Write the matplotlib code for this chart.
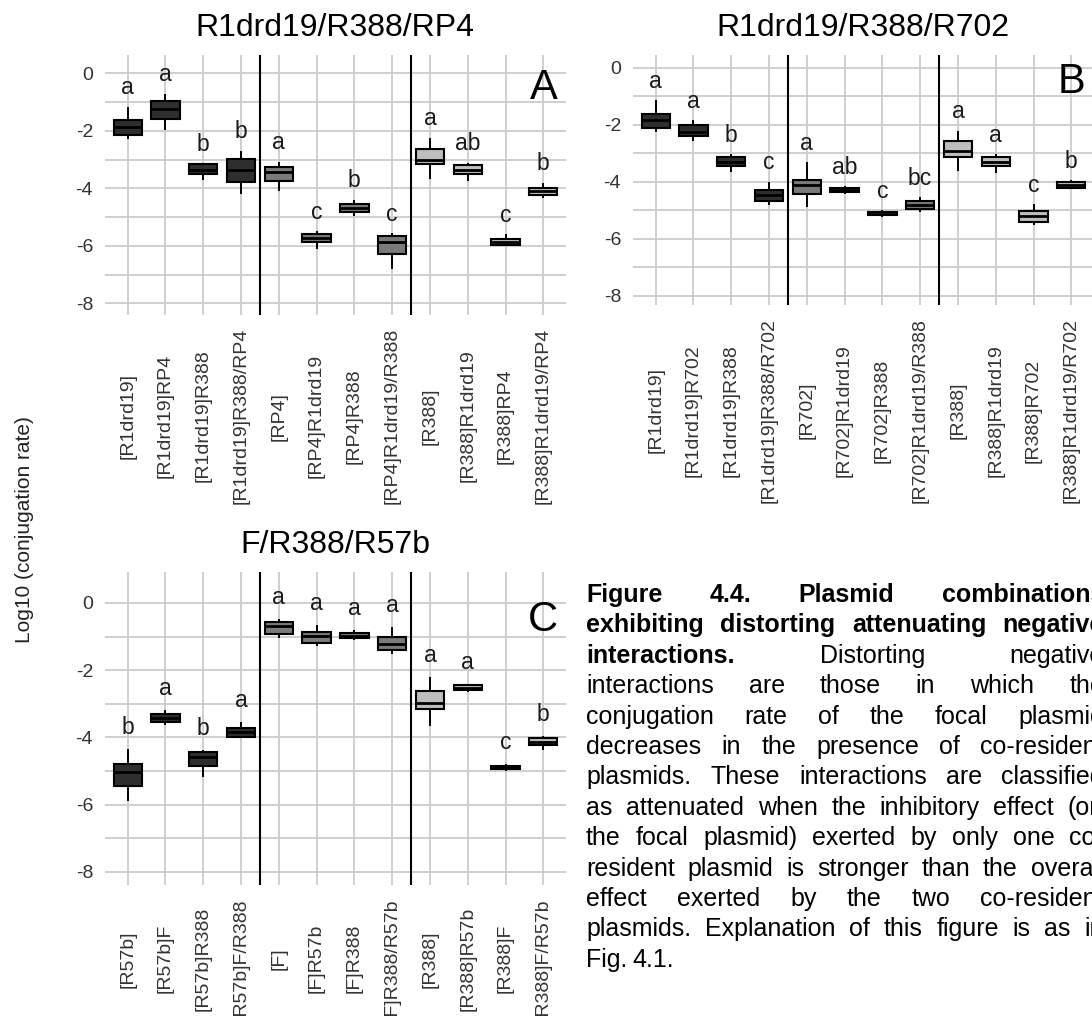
import matplotlib
matplotlib.use("Agg")
import matplotlib.pyplot as plt
from matplotlib.ticker import MultipleLocator

plt.rcParams['font.family'] = ['Liberation Sans', 'DejaVu Sans']

W, H = 1092, 1016

# panel A
a_title = "R1drd19/R388/RP4"
a_labels = ["[R1drd19]", "[R1drd19]RP4", "[R1drd19]R388", "[R1drd19]R388/RP4",
            "[RP4]", "[RP4]R1drd19", "[RP4]R388", "[RP4]R1drd19/R388",
            "[R388]", "[R388]R1drd19", "[R388]RP4", "[R388]R1drd19/RP4"]
a_whishi = [-1.20, -0.76, -3.16, -2.73, -3.11, -5.53, -4.44, -5.59, -2.28, -3.14, -5.63, -3.84]
a_q3 = [-1.62, -0.97, -3.17, -2.99, -3.27, -5.57, -4.54, -5.65, -2.62, -3.20, -5.75, -3.99]
a_med = [-1.87, -1.26, -3.35, -3.37, -3.43, -5.74, -4.68, -5.88, -3.03, -3.35, -5.85, -4.10]
a_q1 = [-2.15, -1.58, -3.51, -3.78, -3.74, -5.88, -4.81, -6.29, -3.17, -3.49, -5.98, -4.24]
a_whislo = [-2.26, -1.93, -3.66, -4.16, -4.05, -6.06, -4.91, -6.78, -3.64, -3.70, -5.98, -4.30]
a_letters = ["a", "a", "b", "b", "a", "c", "b", "c", "a", "ab", "c", "b"]

# panel B
b_title = "R1drd19/R388/R702"
b_labels = ["[R1drd19]", "[R1drd19]R702", "[R1drd19]R388", "[R1drd19]R388/R702",
            "[R702]", "[R702]R1drd19", "[R702]R388", "[R702]R1drd19/R388",
            "[R388]", "[R388]R1drd19", "[R388]R702", "[R388]R1drd19/R702"]
b_whishi = [-1.17, -1.88, -3.07, -4.04, -3.34, -4.20, -5.04, -4.58, -2.24, -3.06, -4.82, -3.98]
b_q3 = [-1.61, -2.02, -3.13, -4.30, -3.93, -4.22, -5.06, -4.68, -2.56, -3.14, -5.02, -4.02]
b_med = [-1.84, -2.25, -3.31, -4.48, -4.10, -4.29, -5.12, -4.82, -2.91, -3.30, -5.20, -4.10]
b_q1 = [-2.13, -2.39, -3.46, -4.69, -4.42, -4.36, -5.18, -4.97, -3.12, -3.45, -5.40, -4.21]
b_whislo = [-2.23, -2.54, -3.62, -4.77, -4.87, -4.38, -5.20, -5.03, -3.59, -3.65, -5.48, -4.23]
b_letters = ["a", "a", "b", "c", "a", "ab", "c", "bc", "a", "a", "c", "b"]

# panel C
c_title = "F/R388/R57b"
c_labels = ["[R57b]", "[R57b]F", "[R57b]R388", "[R57b]F/R388",
            "[F]", "[F]R57b", "[F]R388", "[F]R388/R57b",
            "[R388]", "[R388]R57b", "[R388]F", "[R388]F/R57b"]
c_whishi = [-4.37, -3.21, -4.39, -3.56, -0.50, -0.68, -0.83, -0.75, -2.24, -2.43, -4.82, -3.98]
c_q3 = [-4.80, -3.29, -4.44, -3.73, -0.57, -0.85, -0.88, -1.00, -2.61, -2.45, -4.84, -4.03]
c_med = [-5.04, -3.41, -4.59, -3.85, -0.70, -0.98, -0.97, -1.22, -2.97, -2.52, -4.89, -4.13]
c_q1 = [-5.46, -3.53, -4.85, -3.98, -0.92, -1.18, -1.05, -1.40, -3.16, -2.59, -4.94, -4.23]
c_whislo = [-5.85, -3.60, -5.14, -4.00, -1.02, -1.25, -1.07, -1.50, -3.63, -2.61, -4.96, -4.35]
c_letters = ["b", "a", "b", "a", "a", "a", "a", "a", "a", "a", "c", "b"]

group_fills = ["#2e2e2e"] * 4 + ["#7a7a7a"] * 4 + ["#bdbdbd"] * 4
yticks = [0, -2, -4, -6, -8]

cap_lines = [
    "Figure 4.4. Plasmid combinations",
    "exhibiting distorting attenuating negative",
    "interactions. Distorting negative",
    "interactions are those in which the",
    "conjugation rate of the focal plasmid",
    "decreases in the presence of co-resident",
    "plasmids. These interactions are classified",
    "as attenuated when the inhibitory effect (on",
    "the focal plasmid) exerted by only one co-",
    "resident plasmid is stronger than the overall",
    "effect exerted by the two co-resident",
    "plasmids. Explanation of this figure is as in",
    "Fig. 4.1.",
]
cap_bold = [4, 4, 1, 0, 0, 0, 0, 0, 0, 0, 0, 0, 0]


def px_axes(fig, left, top, right, bottom):
    return fig.add_axes([left / W, 1 - bottom / H, (right - left) / W, (bottom - top) / H])


def panel(ax, labels, whislo, q1, med, q3, whishi, letters, ylim, tag):
    stats = [dict(whislo=lo, q1=a, med=m, q3=b, whishi=hi)
             for lo, a, m, b, hi in zip(whislo, q1, med, q3, whishi)]
    pos = list(range(1, len(stats) + 1))
    bp = ax.bxp(stats, positions=pos, widths=0.75, showfliers=False, showcaps=False,
                patch_artist=True,
                boxprops=dict(edgecolor='black', linewidth=1.5),
                whiskerprops=dict(color='black', linewidth=1.4),
                medianprops=dict(color='black', linewidth=2.0))
    for box, fc in zip(bp['boxes'], group_fills):
        box.set_facecolor(fc)
    for p, hi, let in zip(pos, whishi, letters):
        ax.text(p, hi + 0.47, let, ha='center', va='baseline', fontsize=16.5, color='#1a1a1a')
    ax.axvline(4.5, color='black', lw=1.5, zorder=1.5)
    ax.axvline(8.5, color='black', lw=1.5, zorder=1.5)
    ax.text(12, -0.5, tag, ha='center', va='center', fontsize=30, clip_on=False)
    ax.set_xlim(0.4, 12.6)
    ax.set_ylim(*ylim)
    ax.set_yticks(yticks)
    ax.set_yticklabels([str(t) for t in yticks])
    ax.yaxis.set_minor_locator(MultipleLocator(1))
    ax.set_xticks(pos)
    ax.set_xticklabels(labels, rotation=90, ha='center', va='center')
    ax.grid(True, which='both', color='#cccccc', lw=1.3)
    ax.set_axisbelow(True)
    for s in ax.spines.values():
        s.set_visible(False)
    ax.tick_params(which='both', length=0, labelsize=14, colors='#333333')
    ax.tick_params(axis='y', pad=8.6)


fig = plt.figure(figsize=(W / 100, H / 100), dpi=100)

ax_a = px_axes(fig, 105, 55, 566, 315)
panel(ax_a, a_labels, a_whislo, a_q1, a_med, a_q3, a_whishi, a_letters, (-8.4, 0.63), "A")
ax_b = px_axes(fig, 633, 55, 1094, 305)
panel(ax_b, b_labels, b_whislo, b_q1, b_med, b_q3, b_whishi, b_letters, (-8.33, 0.45), "B")
ax_c = px_axes(fig, 105, 572, 566, 885)
panel(ax_c, c_labels, c_whislo, c_q1, c_med, c_q3, c_whishi, c_letters, (-8.39, 0.92), "C")

fig.text(335 / W, 1 - 28 / H, a_title, ha='center', va='center', fontsize=23)
fig.text(863 / W, 1 - 28 / H, b_title, ha='center', va='center', fontsize=23)
fig.text(335 / W, 1 - 545 / H, c_title, ha='center', va='center', fontsize=23)
fig.text(24 / W, 1 - 530 / H, "Log10 (conjugation rate)", rotation=90,
         ha='center', va='center', fontsize=15, color='#222222')

# x labels are centred 13 px below the panel plus half the longest label
fig.canvas.draw()
r = fig.canvas.get_renderer()
for ax in (ax_a, ax_b, ax_c):
    hmax = max(t.get_window_extent(r).height for t in ax.get_xticklabels())
    ax.tick_params(axis='x', pad=(13 + hmax / 2) * 0.72)

# justified caption, cut by the right edge as in the source
x0, x1, base0, dy = 586, 1104, 602, 30.4
for i, (line, nb) in enumerate(zip(cap_lines, cap_bold)):
    words = line.split()
    texts = [fig.text(0, 0, w, fontsize=18, fontweight='bold' if j < nb else 'normal',
                      ha='left', va='baseline', color='black')
             for j, w in enumerate(words)]
    widths = [t.get_window_extent(r).width for t in texts]
    if i == len(cap_lines) - 1 or len(words) == 1:
        gap = 5.0
    else:
        gap = (x1 - x0 - sum(widths)) / (len(words) - 1)
    x = x0
    y = base0 + i * dy
    for t, w in zip(texts, widths):
        t.set_position((x / W, 1 - y / H))
        x += w + gap

fig.savefig("out.png", dpi=100)
